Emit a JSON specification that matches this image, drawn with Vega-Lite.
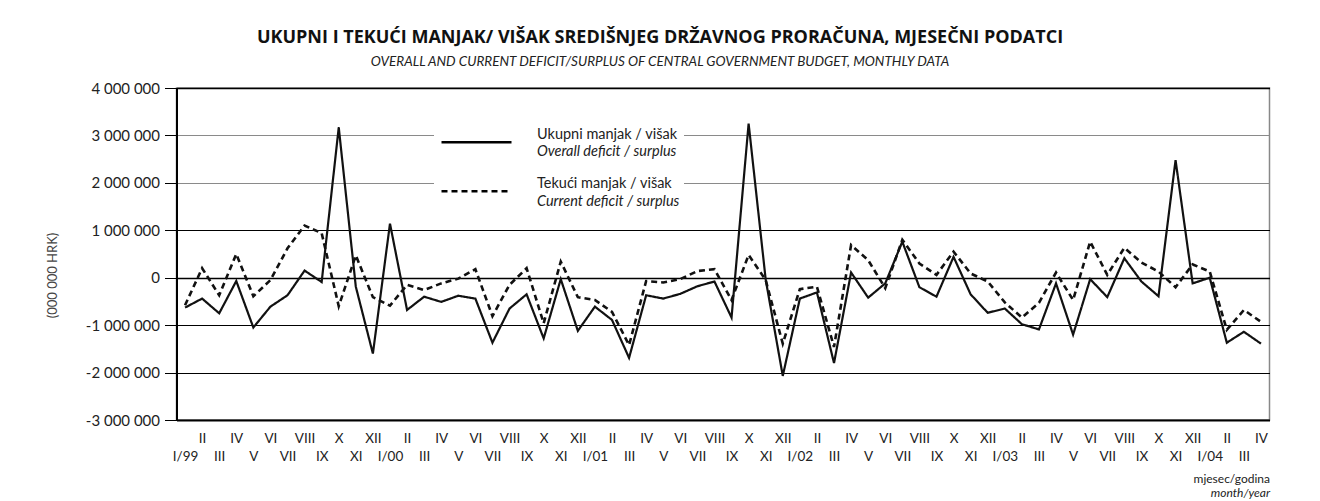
{
  "$schema": "https://vega.github.io/schema/vega-lite/v6.json",
  "width": 1093,
  "height": 332,
  "autosize": {"type": "none"},
  "padding": {"left": 176.5, "top": 88, "right": 50.5, "bottom": 81},
  "background": "white",
  "title": {
    "text": "UKUPNI I TEKUĆI MANJAK/ VIŠAK SREDIŠNJEG DRŽAVNOG PRORAČUNA, MJESEČNI PODATCI",
    "subtitle": "OVERALL AND CURRENT DEFICIT/SURPLUS OF CENTRAL GOVERNMENT BUDGET, MONTHLY DATA",
    "anchor": "middle",
    "frame": "group",
    "dx": -63,
    "offset": 13,
    "font": "Open Sans",
    "fontSize": 18,
    "fontWeight": "bold",
    "color": "#111",
    "subtitleFont": "Lato",
    "subtitleFontSize": 13.5,
    "subtitleFontStyle": "italic",
    "subtitleColor": "#222",
    "subtitlePadding": 8
  },
  "data": {"values": [
    {"mjesec":"1999-01-01","hr":"Ukupni manjak / višak","en":"Overall deficit / surplus","iznos":-630000},
    {"mjesec":"1999-02-01","hr":"Ukupni manjak / višak","en":"Overall deficit / surplus","iznos":-440000},
    {"mjesec":"1999-03-01","hr":"Ukupni manjak / višak","en":"Overall deficit / surplus","iznos":-750000},
    {"mjesec":"1999-04-01","hr":"Ukupni manjak / višak","en":"Overall deficit / surplus","iznos":-70000},
    {"mjesec":"1999-05-01","hr":"Ukupni manjak / višak","en":"Overall deficit / surplus","iznos":-1050000},
    {"mjesec":"1999-06-01","hr":"Ukupni manjak / višak","en":"Overall deficit / surplus","iznos":-610000},
    {"mjesec":"1999-07-01","hr":"Ukupni manjak / višak","en":"Overall deficit / surplus","iznos":-370000},
    {"mjesec":"1999-08-01","hr":"Ukupni manjak / višak","en":"Overall deficit / surplus","iznos":150000},
    {"mjesec":"1999-09-01","hr":"Ukupni manjak / višak","en":"Overall deficit / surplus","iznos":-90000},
    {"mjesec":"1999-10-01","hr":"Ukupni manjak / višak","en":"Overall deficit / surplus","iznos":3170000},
    {"mjesec":"1999-11-01","hr":"Ukupni manjak / višak","en":"Overall deficit / surplus","iznos":-190000},
    {"mjesec":"1999-12-01","hr":"Ukupni manjak / višak","en":"Overall deficit / surplus","iznos":-1600000},
    {"mjesec":"2000-01-01","hr":"Ukupni manjak / višak","en":"Overall deficit / surplus","iznos":1140000},
    {"mjesec":"2000-02-01","hr":"Ukupni manjak / višak","en":"Overall deficit / surplus","iznos":-680000},
    {"mjesec":"2000-03-01","hr":"Ukupni manjak / višak","en":"Overall deficit / surplus","iznos":-400000},
    {"mjesec":"2000-04-01","hr":"Ukupni manjak / višak","en":"Overall deficit / surplus","iznos":-510000},
    {"mjesec":"2000-05-01","hr":"Ukupni manjak / višak","en":"Overall deficit / surplus","iznos":-380000},
    {"mjesec":"2000-06-01","hr":"Ukupni manjak / višak","en":"Overall deficit / surplus","iznos":-440000},
    {"mjesec":"2000-07-01","hr":"Ukupni manjak / višak","en":"Overall deficit / surplus","iznos":-1370000},
    {"mjesec":"2000-08-01","hr":"Ukupni manjak / višak","en":"Overall deficit / surplus","iznos":-650000},
    {"mjesec":"2000-09-01","hr":"Ukupni manjak / višak","en":"Overall deficit / surplus","iznos":-350000},
    {"mjesec":"2000-10-01","hr":"Ukupni manjak / višak","en":"Overall deficit / surplus","iznos":-1280000},
    {"mjesec":"2000-11-01","hr":"Ukupni manjak / višak","en":"Overall deficit / surplus","iznos":-30000},
    {"mjesec":"2000-12-01","hr":"Ukupni manjak / višak","en":"Overall deficit / surplus","iznos":-1120000},
    {"mjesec":"2001-01-01","hr":"Ukupni manjak / višak","en":"Overall deficit / surplus","iznos":-610000},
    {"mjesec":"2001-02-01","hr":"Ukupni manjak / višak","en":"Overall deficit / surplus","iznos":-890000},
    {"mjesec":"2001-03-01","hr":"Ukupni manjak / višak","en":"Overall deficit / surplus","iznos":-1690000},
    {"mjesec":"2001-04-01","hr":"Ukupni manjak / višak","en":"Overall deficit / surplus","iznos":-370000},
    {"mjesec":"2001-05-01","hr":"Ukupni manjak / višak","en":"Overall deficit / surplus","iznos":-440000},
    {"mjesec":"2001-06-01","hr":"Ukupni manjak / višak","en":"Overall deficit / surplus","iznos":-340000},
    {"mjesec":"2001-07-01","hr":"Ukupni manjak / višak","en":"Overall deficit / surplus","iznos":-180000},
    {"mjesec":"2001-08-01","hr":"Ukupni manjak / višak","en":"Overall deficit / surplus","iznos":-80000},
    {"mjesec":"2001-09-01","hr":"Ukupni manjak / višak","en":"Overall deficit / surplus","iznos":-840000},
    {"mjesec":"2001-10-01","hr":"Ukupni manjak / višak","en":"Overall deficit / surplus","iznos":3250000},
    {"mjesec":"2001-11-01","hr":"Ukupni manjak / višak","en":"Overall deficit / surplus","iznos":-40000},
    {"mjesec":"2001-12-01","hr":"Ukupni manjak / višak","en":"Overall deficit / surplus","iznos":-2070000},
    {"mjesec":"2002-01-01","hr":"Ukupni manjak / višak","en":"Overall deficit / surplus","iznos":-440000},
    {"mjesec":"2002-02-01","hr":"Ukupni manjak / višak","en":"Overall deficit / surplus","iznos":-310000},
    {"mjesec":"2002-03-01","hr":"Ukupni manjak / višak","en":"Overall deficit / surplus","iznos":-1800000},
    {"mjesec":"2002-04-01","hr":"Ukupni manjak / višak","en":"Overall deficit / surplus","iznos":110000},
    {"mjesec":"2002-05-01","hr":"Ukupni manjak / višak","en":"Overall deficit / surplus","iznos":-420000},
    {"mjesec":"2002-06-01","hr":"Ukupni manjak / višak","en":"Overall deficit / surplus","iznos":-120000},
    {"mjesec":"2002-07-01","hr":"Ukupni manjak / višak","en":"Overall deficit / surplus","iznos":760000},
    {"mjesec":"2002-08-01","hr":"Ukupni manjak / višak","en":"Overall deficit / surplus","iznos":-200000},
    {"mjesec":"2002-09-01","hr":"Ukupni manjak / višak","en":"Overall deficit / surplus","iznos":-400000},
    {"mjesec":"2002-10-01","hr":"Ukupni manjak / višak","en":"Overall deficit / surplus","iznos":440000},
    {"mjesec":"2002-11-01","hr":"Ukupni manjak / višak","en":"Overall deficit / surplus","iznos":-350000},
    {"mjesec":"2002-12-01","hr":"Ukupni manjak / višak","en":"Overall deficit / surplus","iznos":-740000},
    {"mjesec":"2003-01-01","hr":"Ukupni manjak / višak","en":"Overall deficit / surplus","iznos":-650000},
    {"mjesec":"2003-02-01","hr":"Ukupni manjak / višak","en":"Overall deficit / surplus","iznos":-980000},
    {"mjesec":"2003-03-01","hr":"Ukupni manjak / višak","en":"Overall deficit / surplus","iznos":-1090000},
    {"mjesec":"2003-04-01","hr":"Ukupni manjak / višak","en":"Overall deficit / surplus","iznos":-120000},
    {"mjesec":"2003-05-01","hr":"Ukupni manjak / višak","en":"Overall deficit / surplus","iznos":-1200000},
    {"mjesec":"2003-06-01","hr":"Ukupni manjak / višak","en":"Overall deficit / surplus","iznos":-30000},
    {"mjesec":"2003-07-01","hr":"Ukupni manjak / višak","en":"Overall deficit / surplus","iznos":-410000},
    {"mjesec":"2003-08-01","hr":"Ukupni manjak / višak","en":"Overall deficit / surplus","iznos":410000},
    {"mjesec":"2003-09-01","hr":"Ukupni manjak / višak","en":"Overall deficit / surplus","iznos":-80000},
    {"mjesec":"2003-10-01","hr":"Ukupni manjak / višak","en":"Overall deficit / surplus","iznos":-390000},
    {"mjesec":"2003-11-01","hr":"Ukupni manjak / višak","en":"Overall deficit / surplus","iznos":2480000},
    {"mjesec":"2003-12-01","hr":"Ukupni manjak / višak","en":"Overall deficit / surplus","iznos":-120000},
    {"mjesec":"2004-01-01","hr":"Ukupni manjak / višak","en":"Overall deficit / surplus","iznos":0},
    {"mjesec":"2004-02-01","hr":"Ukupni manjak / višak","en":"Overall deficit / surplus","iznos":-1370000},
    {"mjesec":"2004-03-01","hr":"Ukupni manjak / višak","en":"Overall deficit / surplus","iznos":-1140000},
    {"mjesec":"2004-04-01","hr":"Ukupni manjak / višak","en":"Overall deficit / surplus","iznos":-1390000},
    {"mjesec":"1999-01-01","hr":"Tekući manjak / višak","en":"Current deficit / surplus","iznos":-580000},
    {"mjesec":"1999-02-01","hr":"Tekući manjak / višak","en":"Current deficit / surplus","iznos":200000},
    {"mjesec":"1999-03-01","hr":"Tekući manjak / višak","en":"Current deficit / surplus","iznos":-370000},
    {"mjesec":"1999-04-01","hr":"Tekući manjak / višak","en":"Current deficit / surplus","iznos":500000},
    {"mjesec":"1999-05-01","hr":"Tekući manjak / višak","en":"Current deficit / surplus","iznos":-390000},
    {"mjesec":"1999-06-01","hr":"Tekući manjak / višak","en":"Current deficit / surplus","iznos":-50000},
    {"mjesec":"1999-07-01","hr":"Tekući manjak / višak","en":"Current deficit / surplus","iznos":620000},
    {"mjesec":"1999-08-01","hr":"Tekući manjak / višak","en":"Current deficit / surplus","iznos":1100000},
    {"mjesec":"1999-09-01","hr":"Tekući manjak / višak","en":"Current deficit / surplus","iznos":940000},
    {"mjesec":"1999-10-01","hr":"Tekući manjak / višak","en":"Current deficit / surplus","iznos":-600000},
    {"mjesec":"1999-11-01","hr":"Tekući manjak / višak","en":"Current deficit / surplus","iznos":470000},
    {"mjesec":"1999-12-01","hr":"Tekući manjak / višak","en":"Current deficit / surplus","iznos":-410000},
    {"mjesec":"2000-01-01","hr":"Tekući manjak / višak","en":"Current deficit / surplus","iznos":-590000},
    {"mjesec":"2000-02-01","hr":"Tekući manjak / višak","en":"Current deficit / surplus","iznos":-150000},
    {"mjesec":"2000-03-01","hr":"Tekući manjak / višak","en":"Current deficit / surplus","iznos":-260000},
    {"mjesec":"2000-04-01","hr":"Tekući manjak / višak","en":"Current deficit / surplus","iznos":-120000},
    {"mjesec":"2000-05-01","hr":"Tekući manjak / višak","en":"Current deficit / surplus","iznos":-20000},
    {"mjesec":"2000-06-01","hr":"Tekući manjak / višak","en":"Current deficit / surplus","iznos":180000},
    {"mjesec":"2000-07-01","hr":"Tekući manjak / višak","en":"Current deficit / surplus","iznos":-810000},
    {"mjesec":"2000-08-01","hr":"Tekući manjak / višak","en":"Current deficit / surplus","iznos":-150000},
    {"mjesec":"2000-09-01","hr":"Tekući manjak / višak","en":"Current deficit / surplus","iznos":200000},
    {"mjesec":"2000-10-01","hr":"Tekući manjak / višak","en":"Current deficit / surplus","iznos":-960000},
    {"mjesec":"2000-11-01","hr":"Tekući manjak / višak","en":"Current deficit / surplus","iznos":340000},
    {"mjesec":"2000-12-01","hr":"Tekući manjak / višak","en":"Current deficit / surplus","iznos":-410000},
    {"mjesec":"2001-01-01","hr":"Tekući manjak / višak","en":"Current deficit / surplus","iznos":-470000},
    {"mjesec":"2001-02-01","hr":"Tekući manjak / višak","en":"Current deficit / surplus","iznos":-720000},
    {"mjesec":"2001-03-01","hr":"Tekući manjak / višak","en":"Current deficit / surplus","iznos":-1420000},
    {"mjesec":"2001-04-01","hr":"Tekući manjak / višak","en":"Current deficit / surplus","iznos":-70000},
    {"mjesec":"2001-05-01","hr":"Tekući manjak / višak","en":"Current deficit / surplus","iznos":-100000},
    {"mjesec":"2001-06-01","hr":"Tekući manjak / višak","en":"Current deficit / surplus","iznos":-30000},
    {"mjesec":"2001-07-01","hr":"Tekući manjak / višak","en":"Current deficit / surplus","iznos":140000},
    {"mjesec":"2001-08-01","hr":"Tekući manjak / višak","en":"Current deficit / surplus","iznos":180000},
    {"mjesec":"2001-09-01","hr":"Tekući manjak / višak","en":"Current deficit / surplus","iznos":-470000},
    {"mjesec":"2001-10-01","hr":"Tekući manjak / višak","en":"Current deficit / surplus","iznos":480000},
    {"mjesec":"2001-11-01","hr":"Tekući manjak / višak","en":"Current deficit / surplus","iznos":-50000},
    {"mjesec":"2001-12-01","hr":"Tekući manjak / višak","en":"Current deficit / surplus","iznos":-1390000},
    {"mjesec":"2002-01-01","hr":"Tekući manjak / višak","en":"Current deficit / surplus","iznos":-240000},
    {"mjesec":"2002-02-01","hr":"Tekući manjak / višak","en":"Current deficit / surplus","iznos":-190000},
    {"mjesec":"2002-03-01","hr":"Tekući manjak / višak","en":"Current deficit / surplus","iznos":-1460000},
    {"mjesec":"2002-04-01","hr":"Tekući manjak / višak","en":"Current deficit / surplus","iznos":690000},
    {"mjesec":"2002-05-01","hr":"Tekući manjak / višak","en":"Current deficit / surplus","iznos":370000},
    {"mjesec":"2002-06-01","hr":"Tekući manjak / višak","en":"Current deficit / surplus","iznos":-220000},
    {"mjesec":"2002-07-01","hr":"Tekući manjak / višak","en":"Current deficit / surplus","iznos":800000},
    {"mjesec":"2002-08-01","hr":"Tekući manjak / višak","en":"Current deficit / surplus","iznos":300000},
    {"mjesec":"2002-09-01","hr":"Tekući manjak / višak","en":"Current deficit / surplus","iznos":60000},
    {"mjesec":"2002-10-01","hr":"Tekući manjak / višak","en":"Current deficit / surplus","iznos":550000},
    {"mjesec":"2002-11-01","hr":"Tekući manjak / višak","en":"Current deficit / surplus","iznos":90000},
    {"mjesec":"2002-12-01","hr":"Tekući manjak / višak","en":"Current deficit / surplus","iznos":-80000},
    {"mjesec":"2003-01-01","hr":"Tekući manjak / višak","en":"Current deficit / surplus","iznos":-520000},
    {"mjesec":"2003-02-01","hr":"Tekući manjak / višak","en":"Current deficit / surplus","iznos":-840000},
    {"mjesec":"2003-03-01","hr":"Tekući manjak / višak","en":"Current deficit / surplus","iznos":-530000},
    {"mjesec":"2003-04-01","hr":"Tekući manjak / višak","en":"Current deficit / surplus","iznos":110000},
    {"mjesec":"2003-05-01","hr":"Tekući manjak / višak","en":"Current deficit / surplus","iznos":-470000},
    {"mjesec":"2003-06-01","hr":"Tekući manjak / višak","en":"Current deficit / surplus","iznos":760000},
    {"mjesec":"2003-07-01","hr":"Tekući manjak / višak","en":"Current deficit / surplus","iznos":60000},
    {"mjesec":"2003-08-01","hr":"Tekući manjak / višak","en":"Current deficit / surplus","iznos":630000},
    {"mjesec":"2003-09-01","hr":"Tekući manjak / višak","en":"Current deficit / surplus","iznos":320000},
    {"mjesec":"2003-10-01","hr":"Tekući manjak / višak","en":"Current deficit / surplus","iznos":130000},
    {"mjesec":"2003-11-01","hr":"Tekući manjak / višak","en":"Current deficit / surplus","iznos":-200000},
    {"mjesec":"2003-12-01","hr":"Tekući manjak / višak","en":"Current deficit / surplus","iznos":280000},
    {"mjesec":"2004-01-01","hr":"Tekući manjak / višak","en":"Current deficit / surplus","iznos":130000},
    {"mjesec":"2004-02-01","hr":"Tekući manjak / višak","en":"Current deficit / surplus","iznos":-1100000},
    {"mjesec":"2004-03-01","hr":"Tekući manjak / višak","en":"Current deficit / surplus","iznos":-680000},
    {"mjesec":"2004-04-01","hr":"Tekući manjak / višak","en":"Current deficit / surplus","iznos":-930000}
  ]},
  "encoding": {
    "y": {
      "field": "iznos",
      "type": "quantitative",
      "scale": {"domain": [-3000000, 4000000], "nice": false, "zero": false},
      "axis": {
        "values": [-3000000, -2000000, -1000000, 0, 1000000, 2000000, 3000000, 4000000],
        "labelExpr": "replace(replace(replace(format(datum.value, ','), ',', ' '), ',', ' '), '\u2212', '-')",
        "labelFont": "Lato",
        "labelFontSize": 15,
        "labelColor": "#222",
        "labelPadding": 5,
        "tickSize": 12,
        "tickColor": "#000",
        "tickWidth": 1,
        "domainColor": "#000",
        "domainWidth": 2,
        "grid": true,
        "gridColor": {"condition": {"test": "datum.value == 2000000 || datum.value == 3000000", "value": "#8a8a8a"}, "value": "#000"},
        "gridWidth": {"condition": {"test": "datum.value == 0 || datum.value == 4000000", "value": 1.6}, "value": 1},
        "gridOpacity": 1,
        "title": "(000 000 HRK)",
        "titleFont": "Lato",
        "titleFontSize": 13,
        "titleFontWeight": "normal",
        "titleColor": "#444",
        "titleAngle": 270,
        "titleAlign": "center",
        "titleBaseline": "middle",
        "titleX": -124,
        "titleY": 187
      }
    },
    "strokeDash": {
      "field": "hr",
      "type": "nominal",
      "scale": {"domain": ["Ukupni manjak / višak", "Tekući manjak / višak"], "range": [[1, 0], [6, 4]]},
      "legend": {
        "orient": "none",
        "legendX": 257.5,
        "legendY": 11.7,
        "title": null,
        "padding": 6,
        "fillColor": "white",
        "symbolType": "stroke",
        "symbolSize": 4900,
        "symbolStrokeWidth": 2.5,
        "symbolStrokeColor": "#000",
        "labelFont": "Lato",
        "labelFontSize": 14.5,
        "labelColor": "#222",
        "labelOffset": 24,
        "labelBaseline": "bottom",
        "rowPadding": 7
      }
    },
    "opacity": {
      "field": "en",
      "type": "ordinal",
      "scale": {"domain": ["Overall deficit / surplus", "Current deficit / surplus"], "range": [1, 1]},
      "legend": {
        "orient": "none",
        "legendX": 263.5,
        "legendY": 20,
        "title": null,
        "padding": 0,
        "symbolType": "stroke",
        "symbolSize": 4900,
        "symbolStrokeWidth": 2.5,
        "symbolStrokeColor": "transparent",
        "symbolFillColor": "transparent",
        "labelFont": "Lato",
        "labelFontSize": 14.5,
        "labelFontStyle": "italic",
        "labelColor": "#222",
        "labelOffset": 24,
        "labelBaseline": "top",
        "rowPadding": -1.7
      }
    }
  },
  "layer": [
    {
      "transform": [{"filter": "datum.hr == 'Ukupni manjak / višak'"}],
      "mark": {"type": "line", "color": "#111", "strokeWidth": 2.2},
      "encoding": {
        "x": {
          "field": "mjesec",
          "type": "ordinal",
          "timeUnit": "utcyearmonth",
          "scale": {"type": "point", "padding": 0.5},
          "axis": {
            "orient": "bottom",
            "labelExpr": "utcmonth(datum.value) == 0 ? 'I/' + utcFormat(datum.value, '%y') : ['I','II','III','IV','V','VI','VII','VIII','IX','X','XI','XII'][utcmonth(datum.value)]",
            "labelAngle": 0,
            "labelPadding": {"condition": {"test": "utcmonth(datum.value) % 2 == 1", "value": 11}, "value": 29},
            "labelFont": "Lato",
            "labelFontSize": 13.5,
            "labelColor": "#222",
            "labelOverlap": false,
            "labelBound": false,
            "ticks": false,
            "grid": false,
            "domainColor": "#000",
            "domainWidth": 2,
            "title": "mjesec/godina",
            "titleFont": "Lato",
            "titleFontSize": 12,
            "titleFontWeight": "normal",
            "titleColor": "#222",
            "titleAlign": "right",
            "titleBaseline": "middle",
            "titleX": 1093,
            "titleY": 58
          }
        }
      }
    },
    {
      "transform": [{"filter": "datum.hr == 'Tekući manjak / višak'"}],
      "mark": {"type": "line", "color": "#111", "strokeWidth": 2.6},
      "encoding": {
        "x": {
          "field": "mjesec",
          "type": "ordinal",
          "timeUnit": "utcyearmonth",
          "scale": {"type": "point", "padding": 0.5},
          "axis": {
            "orient": "bottom",
            "labels": false,
            "ticks": false,
            "domain": false,
            "grid": false,
            "title": "month/year",
            "titleFont": "Lato",
            "titleFontSize": 12,
            "titleFontWeight": "normal",
            "titleFontStyle": "italic",
            "titleColor": "#222",
            "titleAlign": "right",
            "titleBaseline": "middle",
            "titleX": 1093,
            "titleY": 72
          }
        }
      }
    }
  ],
  "resolve": {"scale": {"x": "independent"}, "axis": {"x": "independent"}},
  "config": {"view": {"stroke": "#888", "strokeWidth": 1.5}}
}
